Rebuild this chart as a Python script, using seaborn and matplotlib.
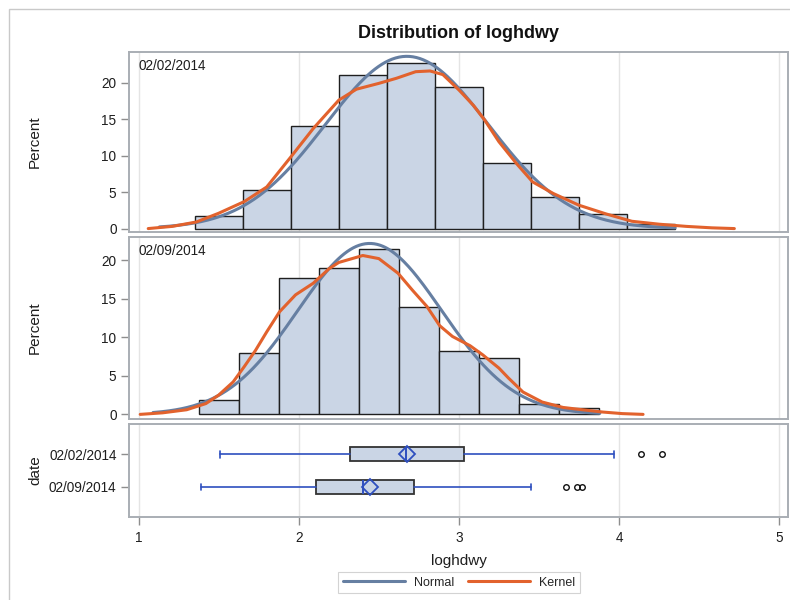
import numpy as np
import pandas as pd
import matplotlib
matplotlib.use("Agg")
import matplotlib.pyplot as plt
from matplotlib.lines import Line2D
from matplotlib.patches import Rectangle
import seaborn as sns

# ---------------- data ----------------
dates = ["02/02/2014", "02/09/2014"]

# histogram (percent per bin), bin midpoints
mid_0202 = [1.5, 1.8, 2.1, 2.4, 2.7, 3.0, 3.3, 3.6, 3.9, 4.2]
pct_0202 = [1.73, 5.33, 14.05, 21.06, 22.75, 19.45, 9.02, 4.33, 2.06, 0.69]
binw_0202 = 0.3

mid_0209 = [1.5, 1.75, 2.0, 2.25, 2.5, 2.75, 3.0, 3.25, 3.5, 3.75]
pct_0209 = [1.85, 7.99, 17.63, 18.92, 21.39, 13.95, 8.28, 7.36, 1.29, 0.86]
binw_0209 = 0.25

# fitted normal parameters (mean, std) and drawn range
normal_0202 = (2.675, 0.507)
normal_range_0202 = (1.13, 4.35)
normal_0209 = (2.443, 0.45)
normal_range_0209 = (1.09, 3.88)

# kernel density curves (percent scale)
kx_0202 = [1.06, 1.21, 1.36, 1.50, 1.66, 1.80, 1.95, 2.09, 2.25, 2.36, 2.50, 2.61,
           2.73, 2.82, 2.90, 3.00, 3.09, 3.16, 3.25, 3.36, 3.46, 3.59, 3.75, 3.92,
           4.08, 4.25, 4.42, 4.58, 4.72]
ky_0202 = [0.0, 0.3, 0.9, 2.1, 3.7, 5.7, 9.8, 13.7, 17.6, 19.1, 19.9, 20.6,
           21.5, 21.6, 21.1, 19.0, 16.9, 14.9, 11.9, 8.9, 6.4, 4.8, 3.2, 2.0,
           1.0, 0.6, 0.3, 0.1, 0.0]

kx_0209 = [1.01, 1.15, 1.30, 1.42, 1.50, 1.59, 1.66, 1.73, 1.80, 1.88, 1.98, 2.09,
           2.19, 2.25, 2.40, 2.50, 2.62, 2.71, 2.80, 2.88, 2.96, 3.07, 3.15, 3.25,
           3.31, 3.40, 3.52, 3.65, 3.77, 3.90, 4.02, 4.15]
ky_0209 = [0.0, 0.2, 0.6, 1.4, 2.5, 4.2, 6.2, 8.3, 10.7, 13.3, 15.5, 17.0,
           18.9, 19.7, 20.6, 20.2, 18.3, 16.1, 14.0, 11.5, 10.1, 8.9, 7.7, 6.0,
           4.7, 2.9, 1.6, 0.9, 0.6, 0.3, 0.1, 0.0]

# box plot statistics
box_whislo = [1.51, 1.39]
box_q1 = [2.32, 2.11]
box_med = [2.67, 2.40]
box_mean = [2.677, 2.443]
box_q3 = [3.03, 2.72]
box_whishi = [3.97, 3.45]
box_fliers = [[4.14, 4.27], [3.67, 3.74, 3.77]]

xticks = [1, 2, 3, 4, 5]
yticks_pct = [0, 5, 10, 15, 20]

# ---------------- style ----------------
sns.set_theme(style="white")
plt.rcParams["font.family"] = ["Liberation Sans", "DejaVu Sans"]

FILL = "#CAD5E5"
NORMAL_C = "#667FA2"
KERNEL_C = "#E2622D"
FRAME_C = "#A9AEB4"
GRID_C = "#E4E4E4"
BOXLINE_C = "#2E4FBF"
TXT = "#1E1E1E"

W, H = 790, 600
fig = plt.figure(figsize=(W / 100, H / 100), dpi=100)


def rect(l, t, r, b):
    return [l / W, 1 - b / H, (r - l) / W, (b - t) / H]


# outer frame
fig.patches.append(Rectangle((9 / W, -0.2), 1.2, 1 - 9 / H + 0.2,
                             transform=fig.transFigure, fill=False,
                             edgecolor="#C9C9C9", lw=1.0))

ax1 = fig.add_axes(rect(129, 52, 788, 232))
ax2 = fig.add_axes(rect(129, 237, 788, 419))
ax3 = fig.add_axes(rect(129, 424, 788, 517))
XLIM = (0.94, 5.055)


def style_axes(ax):
    for s in ax.spines.values():
        s.set_color(FRAME_C)
        s.set_linewidth(1.4)
        s.set_visible(True)
    ax.set_facecolor("white")
    ax.set_xlim(*XLIM)
    for xv in xticks:
        ax.axvline(xv, color=GRID_C, lw=1.0, zorder=0)
    ax.tick_params(axis="y", left=True, length=6, width=1, color="#8E8E8E",
                   pad=3, labelsize=9.8, labelcolor=TXT)
    ax.set_xlabel("")
    ax.set_ylabel("")


def hist_panel(ax, mids, pct, bw, nparams, nrange, kx, ky, label, ylim):
    mids = np.asarray(mids, float)
    edges = [float(v) for v in np.append(mids - bw / 2, mids[-1] + bw / 2)]
    df = pd.DataFrame({"x": mids, "pct": pct})
    sns.histplot(data=df, x="x", weights="pct", bins=edges, ax=ax,
                 stat="count", color=FILL, alpha=1.0, edgecolor="#1F1F1F",
                 linewidth=1.0, zorder=2)
    mu, sd = nparams
    xs = np.linspace(nrange[0], nrange[1], 300)
    ys = 100 * bw * np.exp(-0.5 * ((xs - mu) / sd) ** 2) / (sd * np.sqrt(2 * np.pi))
    sns.lineplot(x=xs, y=ys, ax=ax, color=NORMAL_C, lw=2.2, zorder=3,
                 estimator=None, sort=False)
    sns.lineplot(x=kx, y=ky, ax=ax, color=KERNEL_C, lw=2.2, zorder=4,
                 estimator=None, sort=False)
    style_axes(ax)
    ax.set_ylim(*ylim)
    ax.set_yticks(yticks_pct)
    ax.set_xticks(xticks)
    ax.tick_params(axis="x", bottom=False, labelbottom=False)
    ax.text(0.0137, 0.924, label, transform=ax.transAxes, ha="left",
            va="center", fontsize=9.8, color=TXT)


hist_panel(ax1, mid_0202, pct_0202, binw_0202, normal_0202, normal_range_0202,
           kx_0202, ky_0202, dates[0], (-0.47, 24.2))
hist_panel(ax2, mid_0209, pct_0209, binw_0209, normal_0209, normal_range_0209,
           kx_0209, ky_0209, dates[1], (-0.6, 23.0))

# box plot panel
stats = []
for i in range(len(dates)):
    stats.append(dict(label=dates[i], whislo=box_whislo[i], q1=box_q1[i],
                      med=box_med[i], q3=box_q3[i], whishi=box_whishi[i],
                      mean=box_mean[i], fliers=box_fliers[i]))
bkw = dict(positions=[0, 1], widths=0.42, patch_artist=True, showmeans=True,
           boxprops=dict(facecolor=FILL, edgecolor="#333333", lw=1.3),
           whiskerprops=dict(color=BOXLINE_C, lw=1.2),
           capprops=dict(color=BOXLINE_C, lw=1.2),
           medianprops=dict(color=BOXLINE_C, lw=1.4),
           meanprops=dict(marker="D", markersize=8, markerfacecolor="none",
                          markeredgecolor=BOXLINE_C, markeredgewidth=1.3),
           flierprops=dict(marker="o", markersize=4, markerfacecolor="none",
                           markeredgecolor="#111111", markeredgewidth=1.0))
try:
    ax3.bxp(stats, orientation="horizontal", **bkw)
except TypeError:
    ax3.bxp(stats, vert=False, **bkw)
style_axes(ax3)
ax3.set_ylim(1.92, -0.93)
ax3.set_yticks([0, 1])
ax3.set_yticklabels(dates)
ax3.set_xticks(xticks)
ax3.set_xticklabels([str(v) for v in xticks])
ax3.tick_params(axis="x", bottom=True, length=6, width=1, color="#8E8E8E",
                pad=4, labelsize=9.8, labelcolor=TXT)

# labels
fig.text(459 / W, 1 - 34 / H, "Distribution of loghdwy", ha="center",
         va="center", fontsize=13, fontweight="bold", color="#111111")
fig.text(35 / W, 1 - 142 / H, "Percent", rotation=90, ha="center",
         va="center", fontsize=11, color=TXT)
fig.text(35 / W, 1 - 328 / H, "Percent", rotation=90, ha="center",
         va="center", fontsize=11, color=TXT)
fig.text(35 / W, 1 - 470 / H, "date", rotation=90, ha="center",
         va="center", fontsize=11, color=TXT)
fig.text(459 / W, 1 - 561 / H, "loghdwy", ha="center", va="center",
         fontsize=11, color=TXT)

handles = [Line2D([], [], color=NORMAL_C, lw=2.2),
           Line2D([], [], color=KERNEL_C, lw=2.2)]
leg = fig.legend(handles, ["Normal", "Kernel"], loc="center",
                 bbox_to_anchor=(459 / W, 1 - 582.5 / H), ncol=2,
                 frameon=True, fancybox=False, edgecolor="#C8C8C8",
                 fontsize=9, handlelength=5.0, handletextpad=0.7,
                 columnspacing=1.1, borderpad=0.35, borderaxespad=0)
leg.get_frame().set_linewidth(0.8)

fig.savefig("out.png", dpi=100)
